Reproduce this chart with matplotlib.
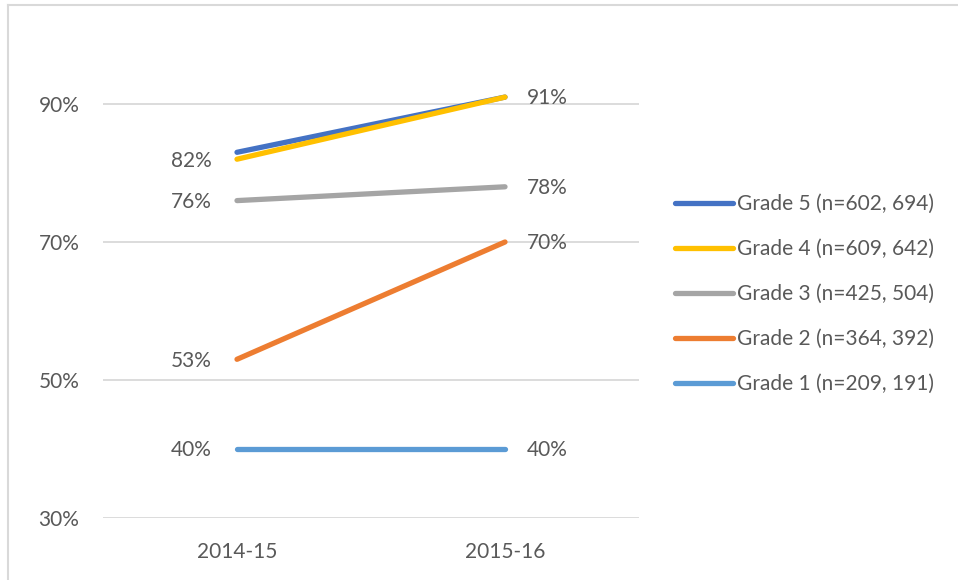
import matplotlib.pyplot as plt
from matplotlib.lines import Line2D

# chart data
years = ["2014-15", "2015-16"]
grade_names = [
    "Grade 5 (n=602, 694)",
    "Grade 4 (n=609, 642)",
    "Grade 3 (n=425, 504)",
    "Grade 2 (n=364, 392)",
    "Grade 1 (n=209, 191)",
]
grade5 = [83, 91]
grade4 = [82, 91]
grade3 = [76, 78]
grade2 = [53, 70]
grade1 = [40, 40]
series = [grade5, grade4, grade3, grade2, grade1]
show_labels = [False, True, True, True, True]
colors = ["#4472C4", "#FFC000", "#A5A5A5", "#ED7D31", "#5B9BD5"]
y_ticks = [30, 50, 70, 90]

text_color = "#595959"
font_size = 15
plt.rcParams["font.family"] = ["Lato", "DejaVu Sans"]

fig = plt.figure(figsize=(9.58, 5.8), dpi=100)
ax = fig.add_axes([103 / 958, 62 / 580, 536 / 958, 483 / 580])

x = list(range(len(years)))
for name, values, color, labelled in zip(grade_names, series, colors, show_labels):
    ax.plot(x, values, color=color, linewidth=3.8, solid_capstyle="round", label=name)
    if labelled:
        ax.annotate(f"{values[0]}%", (x[0], values[0]), xytext=(-18, -1),
                    textcoords="offset points", ha="right", va="center",
                    fontsize=font_size, color=text_color)
        ax.annotate(f"{values[1]}%", (x[1], values[1]), xytext=(16, -1),
                    textcoords="offset points", ha="left", va="center",
                    fontsize=font_size, color=text_color)

ax.set_xlim(-0.5, 1.5)
ax.set_ylim(30, 100)
ax.set_xticks(x)
ax.set_xticklabels(years)
ax.set_yticks(y_ticks)
ax.set_yticklabels([f"{v}%" for v in y_ticks])
ax.tick_params(length=0, labelsize=font_size, labelcolor=text_color)
ax.tick_params(axis="y", pad=17)
ax.tick_params(axis="x", pad=17)
ax.grid(axis="y", color="#D9D9D9", linewidth=1.3)
ax.set_axisbelow(True)
for spine in ax.spines.values():
    spine.set_visible(False)

handles = [Line2D([], [], color=c, linewidth=3.8, solid_capstyle="round") for c in colors]
fig.legend(handles, grade_names, loc="upper left", bbox_to_anchor=(667 / 958, 1 - 186 / 580),
           frameon=False, fontsize=font_size, labelcolor=text_color, handlelength=2.75,
           handletextpad=0.2, labelspacing=1.2, borderaxespad=0)

# outer chart border (top and left edges only visible)
fig.add_artist(Line2D([8 / 958, 1], [1 - 5 / 580, 1 - 5 / 580], color="#D9D9D9", linewidth=1.5))
fig.add_artist(Line2D([8 / 958, 8 / 958], [0, 1 - 5 / 580], color="#D9D9D9", linewidth=1.5))

fig.savefig("out.png", dpi=100)
